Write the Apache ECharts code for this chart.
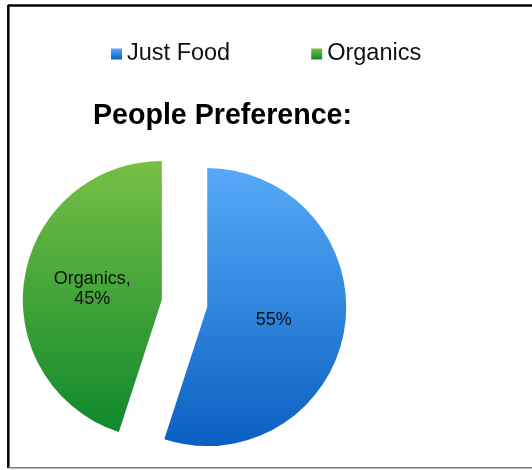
<!DOCTYPE html>
<html>
<head>
<meta charset="utf-8">
<script src="https://cdn.jsdelivr.net/npm/echarts@6/dist/echarts.min.js"></script>
<style>
  html, body { margin: 0; padding: 0; background: #fff; }
  #chart { width: 532px; height: 470px; }
</style>
</head>
<body>
<div id="chart"></div>
<script>
// Survey split between the two options
const categories = ['Just Food', 'Organics'];
const shares = [55, 45];
const labelFormats = ['{d}%', '{b},\n{d}%'];
const labelShifts = [[-5, 2], [2, 0]];

const gradients = [
  ['#56aaf8', '#0a60c2'],
  ['#76c045', '#0f882c']
];

const FONT = '"Liberation Sans", Arial, sans-serif';

const chart = echarts.init(document.getElementById('chart'), null, { renderer: 'canvas' });

const pieData = categories.map((name, i) => ({
  name: name,
  value: shares[i],
  selected: true,
  itemStyle: {
    color: {
      type: 'linear', x: 0, y: 0, x2: 0, y2: 1,
      colorStops: [
        { offset: 0, color: gradients[i][0] },
        { offset: 1, color: gradients[i][1] }
      ]
    }
  },
  label: { formatter: labelFormats[i] }
}));

chart.setOption({
  animation: false,
  backgroundColor: '#ffffff',
  title: {
    text: 'People Preference:',
    left: 88,
    top: 97,
    textStyle: { fontFamily: FONT, fontSize: 28.6, fontWeight: 'bold', color: '#000' }
  },
  legend: {
    data: categories,
    left: 106,
    top: 37,
    icon: 'rect',
    itemWidth: 11,
    itemHeight: 11,
    itemGap: 81,
    textStyle: { fontFamily: FONT, fontSize: 23.5, color: '#111' }
  },
  graphic: [
    // frame around the chart area
    { type: 'line', shape: { x1: 8, y1: 5.5, x2: 532, y2: 5.5 }, style: { stroke: '#000', lineWidth: 2.5 }, silent: true },
    { type: 'line', shape: { x1: 8.3, y1: 5, x2: 8.3, y2: 468 }, style: { stroke: '#000', lineWidth: 2.5 }, silent: true },
    { type: 'line', shape: { x1: 8, y1: 467.8, x2: 532, y2: 467.8 }, style: { stroke: '#777', lineWidth: 1.5 }, silent: true }
  ],
  series: [{
    type: 'pie',
    center: [184.5, 303.5],
    radius: [0, 139],
    startAngle: 90,
    clockwise: true,
    selectedMode: 'multiple',
    selectedOffset: 23,
    avoidLabelOverlap: false,
    emphasis: { disabled: true },
    select: { itemStyle: {} },
    label: {
      show: true,
      position: 'inside',
      fontFamily: FONT,
      fontSize: 18,
      lineHeight: 20,
      color: '#111'
    },
    labelLayout: function (params) {
      const s = labelShifts[params.dataIndex];
      return { dx: s[0], dy: s[1] };
    },
    labelLine: { show: false },
    data: pieData
  }]
});
</script>
</body>
</html>
